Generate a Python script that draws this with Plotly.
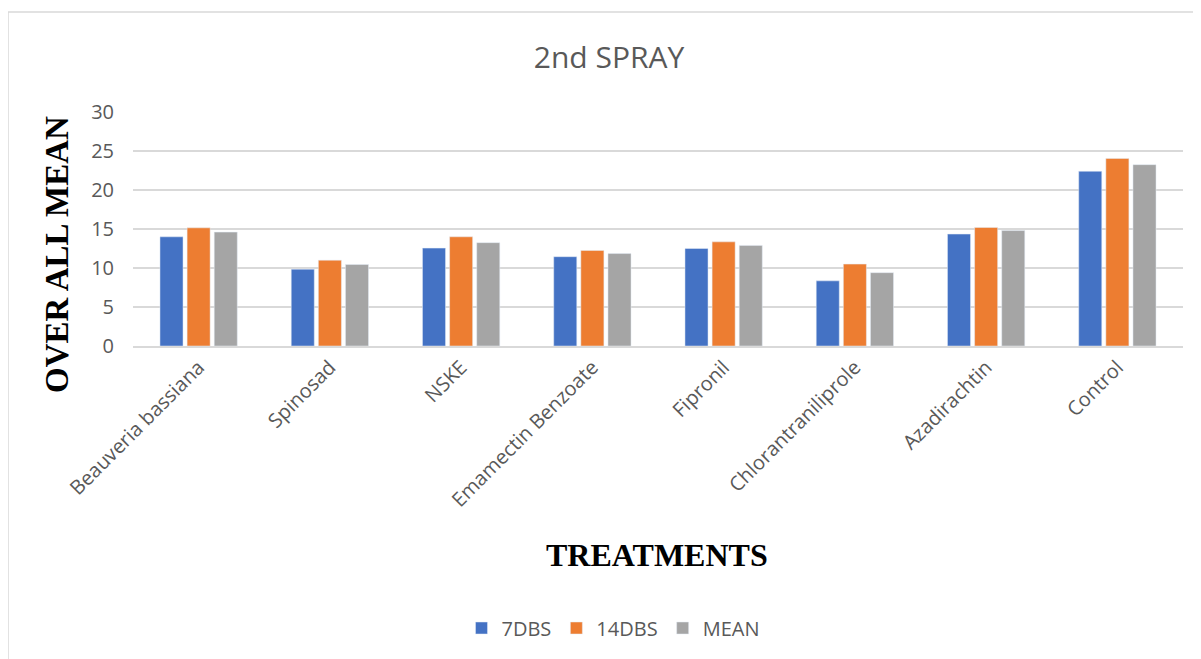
import plotly.graph_objects as go

categories = ["Beauveria bassiana", "Spinosad", "NSKE", "Emamectin Benzoate",
              "Fipronil", "Chlorantraniliprole", "Azadirachtin", "Control"]
dbs7 = [14.0, 9.85, 12.55, 11.45, 12.5, 8.35, 14.35, 22.4]
dbs14 = [15.15, 11.0, 14.0, 12.25, 13.35, 10.5, 15.2, 24.05]
mean = [14.6, 10.45, 13.25, 11.85, 12.9, 9.4, 14.8, 23.25]
y_ticks = [0, 5, 10, 15, 20, 25, 30]

W, H = 1201, 659
OFF = 8  # default page body margin
# desired plot area on screen: x 133..1183, y 112..346
L, T = 133 - OFF, 112 - OFF
R = W - (1183 - OFF)
B = H - (346 - OFF)
pw, ph = W - L - R, H - T - B

def px_x(x):
    return (x - OFF - L) / pw

def px_y(y):
    return (H - B - (y - OFF)) / ph

fig = go.Figure()
fig.add_trace(go.Bar(name="7DBS", x=categories, y=dbs7, marker_color="#4472C4"))
fig.add_trace(go.Bar(name="14DBS", x=categories, y=dbs14, marker_color="#ED7D31"))
fig.add_trace(go.Bar(name="MEAN", x=categories, y=mean, marker_color="#A5A5A5"))

fig.update_layout(
    width=W, height=H,
    margin=dict(l=L, r=R, t=T, b=B),
    paper_bgcolor="white", plot_bgcolor="white",
    barmode="group", bargap=0.38, bargroupgap=0.15,
    font=dict(family="Open Sans", color="#595959"),
    title=dict(text="2nd SPRAY", x=(609 - OFF) / W, xref="container",
               xanchor="center", y=1 - (57 - OFF) / H, yanchor="middle",
               font=dict(family="Open Sans", size=30, color="#595959")),
    legend=dict(orientation="h", x=px_x(613), xanchor="center",
                y=px_y(628), yanchor="middle",
                font=dict(family="Open Sans", size=20, color="#595959"),
                itemwidth=30, traceorder="normal"),
    xaxis=dict(tickangle=-45, tickfont=dict(size=20, color="#595959"),
               showgrid=False, showline=True, linecolor="#d9d9d9", linewidth=1.5,
               ticks=""),
    yaxis=dict(range=[0, 30], tickvals=y_ticks, showgrid=True, gridcolor="#d9d9d9",
               gridwidth=1.5, zeroline=False, tickfont=dict(size=20, color="#595959"),
               ticks="", ticklabelstandoff=18),
    annotations=[
        dict(text="<b>TREATMENTS</b>", x=px_x(657), y=px_y(555), xref="paper", yref="paper",
             showarrow=False, xanchor="center", yanchor="middle",
             font=dict(family="Liberation Serif", size=32, color="black")),
        dict(text="<b>OVER ALL MEAN</b>", x=px_x(57), y=px_y(255), xref="paper", yref="paper",
             showarrow=False, xanchor="center", yanchor="middle", textangle=-90,
             font=dict(family="Liberation Serif", size=33, color="black")),
    ],
    shapes=[
        dict(type="rect", xref="paper", yref="paper",
             x0=px_x(8), x1=px_x(1215), y0=px_y(700), y1=px_y(12),
             line=dict(color="#d9d9d9", width=1.5), layer="below"),
    ],
)

fig.write_html("out.html")
